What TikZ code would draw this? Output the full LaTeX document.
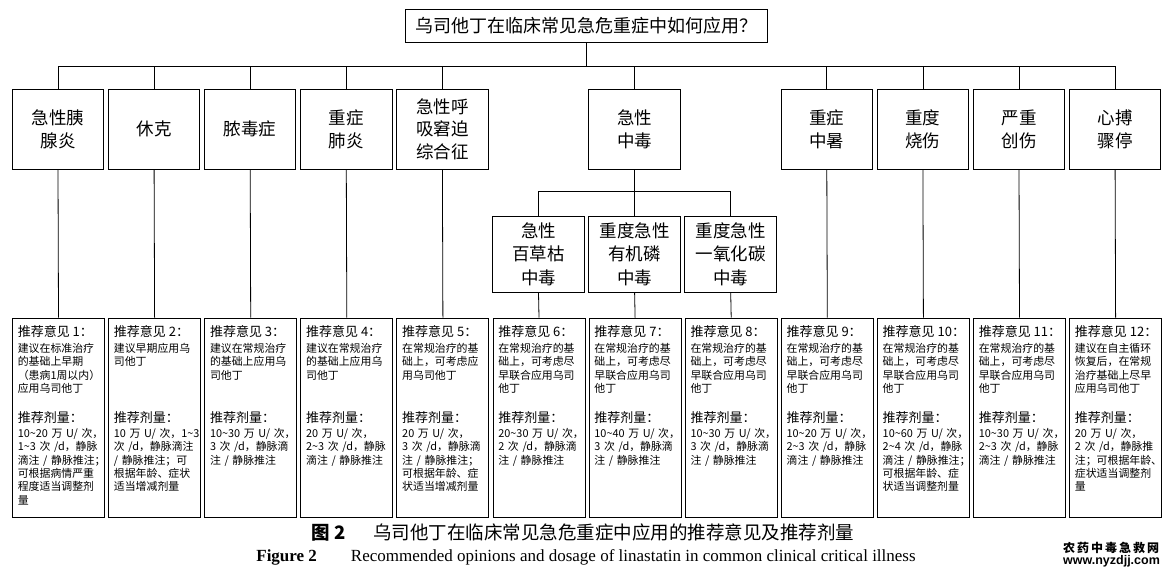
\documentclass[tikz,border=0pt]{standalone}
\usepackage{fontspec}
\setmainfont{Liberation Serif}
\newfontfamily\cjk{Noto Sans CJK SC}
\newfontfamily\wsans{Liberation Sans}
\tikzset{
  box/.style={draw, line width=1pt, inner sep=0pt, align=center, font=\cjk\fontsize{17.5}{22.5}\selectfont},
  lvlone/.style={box, minimum width=91.5pt, minimum height=80pt},
  lvltwo/.style={box, minimum width=91.5pt, minimum height=76.3pt, font=\cjk\fontsize{17.5}{23.3}\selectfont},
  rec/.style={draw, line width=1pt, minimum width=92pt, minimum height=199.2pt, anchor=north west, inner sep=0pt},
  rhead/.style={anchor=base west, inner sep=0pt, font=\cjk\fontsize{13}{15}\selectfont},
  rbody/.style={anchor=base west, inner sep=0pt, text width=130pt, align=left, font=\cjk\fontsize{10.9}{13.3}\selectfont},
  conn/.style={line width=0.8pt},
}
\newcommand\recbox[4]{%
  \node[rec] (r#1) at (#2,317.5) {};
  \node[rhead] (rh#1) at (#2+5.6,336.6) {推荐意见 #1：};
  \node[rbody] (rb#1) at (#2+5.6,352.5) {#3};
  \node[rhead] (rdh#1) at (#2+5.6,422) {推荐剂量：};
  \node[rbody] (rdb#1) at (#2+5.6,437.5) {#4};
}
\begin{document}
\begin{tikzpicture}[x=1pt,y=-1pt]
\useasboundingbox (0,0) rectangle (1172,573);
% top
\node[box, minimum width=362pt, minimum height=33.3pt, font=\cjk\fontsize{18}{20}\selectfont] (top) at (586.6,25.7) {乌司他丁在临床常见急危重症中如何应用？};
\coordinate (bus) at (0,66);
\coordinate (subbus) at (0,191.7);
% level one
\node[lvlone] (n1) at (58,129.3) {急性胰\\腺炎};
\node[lvlone] (n2) at (154.1,129.3) {休克};
\node[lvlone] (n3) at (250.2,129.3) {脓毒症};
\node[lvlone] (n4) at (346.3,129.3) {重症\\肺炎};
\node[lvlone] (n5) at (442.4,129.3) {急性呼\\吸窘迫\\综合征};
\node[lvlone] (n7) at (634.6,129.3) {急性\\中毒};
\node[lvlone] (n9) at (826.8,129.3) {重症\\中暑};
\node[lvlone] (n10) at (922.9,129.3) {重度\\烧伤};
\node[lvlone] (n11) at (1019,129.3) {严重\\创伤};
\node[lvlone] (n12) at (1115.1,129.3) {心搏\\骤停};
% level two
\node[lvltwo] (m6) at (538.5,254.15) {急性\\百草枯\\中毒};
\node[lvltwo] (m7) at (634.6,254.15) {重度急性\\有机磷\\中毒};
\node[lvltwo] (m8) at (730.7,254.15) {重度急性\\一氧化碳\\中毒};
% recommendation boxes
\recbox{1}{12}{建议在标准治疗\\的基础上早期\\（患病1周以内）\\应用乌司他丁}{10\textasciitilde20 万 U/ 次，\\1\textasciitilde3 次 /d，静脉\\滴注 / 静脉推注；\\可根据病情严重\\程度适当调整剂\\量}
\recbox{2}{108.1}{建议早期应用乌\\司他丁}{10 万 U/ 次，1\textasciitilde3\\次 /d，静脉滴注\\/ 静脉推注；可\\根据年龄、症状\\适当增减剂量}
\recbox{3}{204.2}{建议在常规治疗\\的基础上应用乌\\司他丁}{10\textasciitilde30 万 U/ 次，\\3 次 /d，静脉滴\\注 / 静脉推注}
\recbox{4}{300.3}{建议在常规治疗\\的基础上应用乌\\司他丁}{20 万 U/ 次，\\2\textasciitilde3 次 /d，静脉\\滴注 / 静脉推注}
\recbox{5}{396.4}{在常规治疗的基\\础上，可考虑应\\用乌司他丁}{20 万 U/ 次，\\3 次 /d，静脉滴\\注 / 静脉推注；\\可根据年龄、症\\状适当增减剂量}
\recbox{6}{492.5}{在常规治疗的基\\础上，可考虑尽\\早联合应用乌司\\他丁}{20\textasciitilde30 万 U/ 次，\\2 次 /d，静脉滴\\注 / 静脉推注}
\recbox{7}{588.6}{在常规治疗的基\\础上，可考虑尽\\早联合应用乌司\\他丁}{10\textasciitilde40 万 U/ 次，\\3 次 /d，静脉滴\\注 / 静脉推注}
\recbox{8}{684.7}{在常规治疗的基\\础上，可考虑尽\\早联合应用乌司\\他丁}{10\textasciitilde30 万 U/ 次，\\3 次 /d，静脉滴\\注 / 静脉推注}
\recbox{9}{780.8}{在常规治疗的基\\础上，可考虑尽\\早联合应用乌司\\他丁}{10\textasciitilde20 万 U/ 次，\\2\textasciitilde3 次 /d，静脉\\滴注 / 静脉推注}
\recbox{10}{876.9}{在常规治疗的基\\础上，可考虑尽\\早联合应用乌司\\他丁}{10\textasciitilde60 万 U/ 次，\\2\textasciitilde4 次 /d，静脉\\滴注 / 静脉推注；\\可根据年龄、症\\状适当调整剂量}
\recbox{11}{973}{在常规治疗的基\\础上，可考虑尽\\早联合应用乌司\\他丁}{10\textasciitilde30 万 U/ 次，\\2\textasciitilde3 次 /d，静脉\\滴注 / 静脉推注}
\recbox{12}{1069.1}{建议在自主循环\\恢复后，在常规\\治疗基础上尽早\\应用乌司他丁}{20 万 U/ 次，\\2 次 /d，静脉推\\注；可根据年龄、\\症状适当调整剂\\量}
% connectors
\draw[conn] (top.south) -- (top.south |- bus);
\draw[conn] (n1.north) |- (n12.north |- bus) -- (n12.north);
\foreach \n in {n2,n3,n4,n5,n7,n9,n10,n11} \draw[conn] (\n.north) -- (\n.north |- bus);
\draw[conn] (n7.south) -- (n7.south |- subbus);
\draw[conn] (m6.north) |- (m8.north |- subbus) -- (m8.north);
\draw[conn] (m7.north) -- (m7.north |- subbus);
\foreach \i in {1,2,3,4,5,9,10,11,12} \draw[conn] (n\i.south) -- (r\i.north);
\foreach \i in {6,7,8} \draw[conn] (m\i.south) -- (r\i.north);
% caption
\node[font=\cjk\fontsize{18.5}{21}\selectfont] (cap1) at (583,533) {{\bfseries 图 2}\hspace{1.5em}乌司他丁在临床常见急危重症中应用的推荐意见及推荐剂量};
\node[font=\fontsize{17}{20}\selectfont] (cap2) at (586,557) {\textbf{Figure 2}\hspace{2em}Recommended opinions and dosage of linastatin in common clinical critical illness};
% watermark
\node[font=\cjk\bfseries\fontsize{12}{14}\selectfont] (wm1) at (1111,548.3) {农\hspace{2pt}药\hspace{2pt}中\hspace{2pt}毒\hspace{2pt}急\hspace{2pt}救\hspace{2pt}网};
\node[font=\wsans\bfseries\fontsize{12.5}{14}\selectfont] (wm2) at (1111.5,561) {www.nyzdjj.com};
\end{tikzpicture}
\end{document}
